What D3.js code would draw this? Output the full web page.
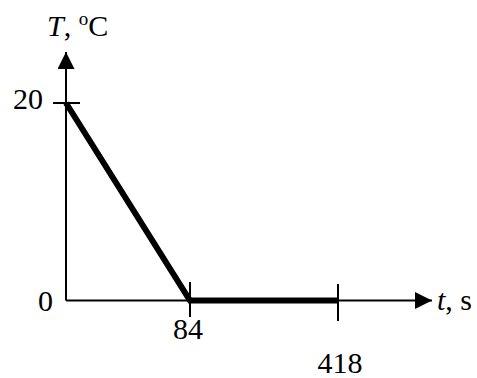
<!DOCTYPE html>
<html>
<head>
<meta charset="utf-8">
<script src="https://cdn.jsdelivr.net/npm/d3@7"></script>
<style>
  html, body { margin: 0; padding: 0; background: #fff; }
  svg text { font-family: "Liberation Serif", "DejaVu Serif", serif; fill: #000; }
</style>
</head>
<body>
<svg id="chart" width="477" height="378"></svg>
<script>
// Cooling curve: temperature falls linearly to 0 °C, then stays at 0 °C
const times = [0, 84, 418];        // t, s
const temps = [20, 0, 0];          // T, °C
const timeTicks = [84, 418];
const tempTicks = [0, 20];

const svg = d3.select("#chart");
const fontSize = 30;

// Schematic (non-uniform) time axis
const x = d3.scaleLinear().domain([0, 84, 418]).range([66, 190, 338]);
const y = d3.scaleLinear().domain([0, 20]).range([300.5, 103]);

const x0 = x(0), y0 = y(0);

// Arrowheads
const defs = svg.append("defs");
defs.append("marker")
  .attr("id", "arrow")
  .attr("viewBox", "0 0 10 10")
  .attr("refX", 10).attr("refY", 5)
  .attr("markerUnits", "userSpaceOnUse")
  .attr("markerWidth", 17).attr("markerHeight", 17)
  .attr("orient", "auto")
  .append("path")
  .attr("d", "M0,0 L10,5 L0,10 Z")
  .attr("fill", "#000");

// Axes
svg.append("line")
  .attr("x1", x0).attr("y1", y0).attr("x2", 432).attr("y2", y0)
  .attr("stroke", "#000").attr("stroke-width", 2)
  .attr("marker-end", "url(#arrow)");
svg.append("line")
  .attr("x1", x0).attr("y1", y0).attr("x2", x0).attr("y2", 52)
  .attr("stroke", "#000").attr("stroke-width", 2)
  .attr("marker-end", "url(#arrow)");

// Time ticks
svg.selectAll(".xtick").data(timeTicks).enter().append("line")
  .attr("x1", d => x(d)).attr("x2", d => x(d))
  .attr("y1", d => d === 84 ? 282 : 284)
  .attr("y2", d => d === 84 ? 317 : 321)
  .attr("stroke", "#000").attr("stroke-width", 2);

// Temperature tick at 20
svg.selectAll(".ytick").data(tempTicks.filter(d => d !== 0)).enter().append("line")
  .attr("x1", x0 - 13).attr("x2", x0 + 14)
  .attr("y1", d => y(d)).attr("y2", d => y(d))
  .attr("stroke", "#000").attr("stroke-width", 2);

// Curve
const line = d3.line().x((d, i) => x(times[i])).y(d => y(d));
svg.append("path")
  .datum(temps)
  .attr("d", line)
  .attr("fill", "none")
  .attr("stroke", "#000")
  .attr("stroke-width", 6)
  .attr("stroke-linejoin", "miter");

// Tick labels
svg.append("text").attr("x", 43).attr("y", y(20) + 6)
  .attr("text-anchor", "end").attr("font-size", fontSize).text("20");
svg.append("text").attr("x", 53).attr("y", y(0) + 10)
  .attr("text-anchor", "end").attr("font-size", fontSize).text("0");
svg.append("text").attr("x", x(84) - 2).attr("y", 339)
  .attr("text-anchor", "middle").attr("font-size", fontSize).text("84");
svg.append("text").attr("x", x(418) + 2).attr("y", 373)
  .attr("text-anchor", "middle").attr("font-size", fontSize).text("418");

// Axis titles
const tTitle = svg.append("text").attr("x", 47).attr("y", 36).attr("font-size", fontSize);
tTitle.append("tspan").attr("font-style", "italic").text("T");
tTitle.append("tspan").text(", ");
tTitle.append("tspan").attr("font-size", 19).attr("dy", -11).text("o");
tTitle.append("tspan").attr("dy", 11).text("C");

const sTitle = svg.append("text").attr("x", 437).attr("y", 310).attr("font-size", fontSize);
sTitle.append("tspan").attr("font-style", "italic").text("t");
sTitle.append("tspan").text(", s");
</script>
</body>
</html>
